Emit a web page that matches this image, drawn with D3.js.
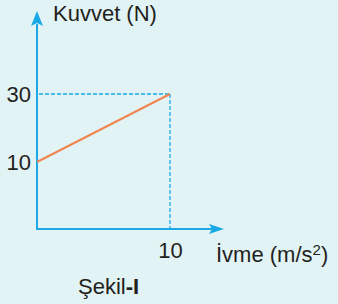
<!DOCTYPE html>
<html><head><meta charset="utf-8">
<script src="https://cdn.jsdelivr.net/npm/d3@7"></script>
<style>
html,body{margin:0;padding:0;background:#e1f3f4;}
svg{display:block;font-family:"Liberation Sans",Arial,sans-serif;}
</style></head>
<body>
<script>
const xTicks = [10];
const yTicks = [10, 30];
const lineX = [0, 10];
const lineY = [10, 30];
const yLabel = "Kuvvet (N)";
const xLabel = "İvme (m/s";
const caption = "Şekil";

const W = 338, H = 304;
const svg = d3.select("body").append("svg").attr("width", W).attr("height", H);
svg.append("rect").attr("width", W).attr("height", H).attr("fill", "#e1f3f4");

const x = d3.scaleLinear().domain([0, 10]).range([37, 170]);
const y = d3.scaleLinear().domain([-10, 30]).range([230, 94]);
const blue = "#1aa9e6";
const x0 = x(0), y0 = 229;

// axes
svg.append("line").attr("x1", x0).attr("x2", 212).attr("y1", y0).attr("y2", y0)
  .attr("stroke", blue).attr("stroke-width", 2);
svg.append("path").attr("d", `M224,${y0} L209,${y0-5} L212,${y0} L209,${y0+5} Z`).attr("fill", blue);
svg.append("line").attr("x1", x0).attr("x2", x0).attr("y1", y0+1).attr("y2", 24)
  .attr("stroke", blue).attr("stroke-width", 2);
svg.append("path").attr("d", `M${x0},11 L${x0-6},26 L${x0},23 L${x0+6},26 Z`).attr("fill", blue);

// dashed guides
svg.append("line").attr("x1", x0+2).attr("x2", x(10)).attr("y1", y(30)).attr("y2", y(30))
  .attr("stroke", blue).attr("stroke-width", 1.3).attr("stroke-dasharray", "4,2");
svg.append("line").attr("x1", x(10)).attr("x2", x(10)).attr("y1", y(30)).attr("y2", y0)
  .attr("stroke", blue).attr("stroke-width", 1.3).attr("stroke-dasharray", "4,2");

// data line
svg.append("path").datum(lineX.map((v, i) => [v, lineY[i]]))
  .attr("d", d3.line().x(d => x(d[0])).y(d => y(d[1])))
  .attr("stroke", "#f08550").attr("stroke-width", 2).attr("fill", "none");

// tick labels
const txt = "#231f20";
const fs = 22;
svg.selectAll(".yt").data(yTicks).enter().append("text")
  .attr("x", 31).attr("y", d => y(d)).attr("dy", "0.38em").attr("text-anchor", "end")
  .attr("font-size", fs).attr("fill", txt).text(d => d);
svg.selectAll(".xt").data(xTicks).enter().append("text")
  .attr("x", d => x(d) + 0.5).attr("y", 258).attr("text-anchor", "middle")
  .attr("font-size", fs).attr("fill", txt).text(d => d);

// axis titles
svg.append("text").attr("x", 53).attr("y", 21).attr("font-size", fs).attr("fill", txt).text(yLabel);
const xl = svg.append("text").attr("x", 216).attr("y", 262).attr("font-size", fs).attr("fill", txt);
xl.append("tspan").text(xLabel);
xl.append("tspan").attr("font-size", 15).attr("dy", -7).text("2");
xl.append("tspan").attr("dy", 7).text(")");

const cp = svg.append("text").attr("x", 78).attr("y", 294).attr("font-size", fs).attr("fill", txt);
cp.append("tspan").text(caption);
cp.append("tspan").attr("font-weight", "bold").text("-I");
</script>
</body></html>
